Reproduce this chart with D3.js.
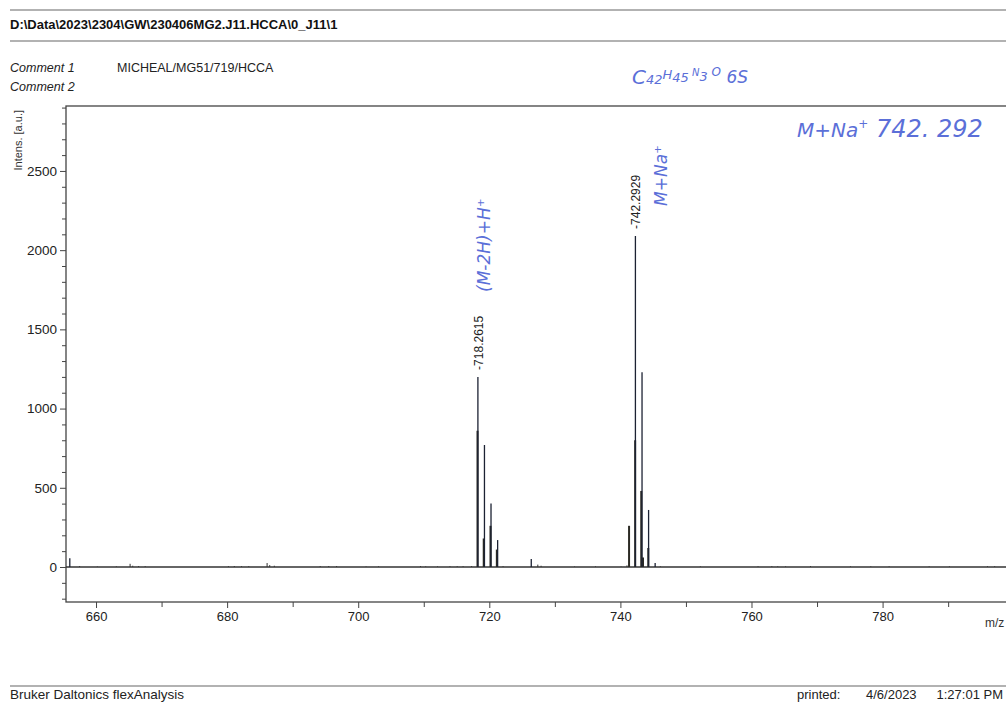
<!DOCTYPE html>
<html>
<head>
<meta charset="utf-8">
<script src="https://cdn.jsdelivr.net/npm/d3@7"></script>
<style>
  body { margin: 0; background: #fff; }
  svg { display: block; font-family: "Liberation Sans", Arial, sans-serif; }
</style>
</head>
<body>
<div id="chart"></div>
<script>
// peak list (m/z, intensity)
const peakMz = [656.0, 718.26, 719.26, 720.26, 721.27, 726.4, 742.29, 743.30, 744.30, 745.3]
const peakIntensity = [55, 1200, 770, 400, 170, 50, 2090, 1230, 360, 25]
// adjacent profile lines of each isotope cluster
const shoulderMz = [718.2, 719.15, 720.18, 721.15, 741.32, 742.25, 743.18, 743.45, 744.25]
const shoulderIntensity = [860, 180, 260, 110, 260, 800, 480, 60, 120]
// small noise peaks along the baseline
const noiseMz = [657.5, 660.2, 663.1, 665.2, 665.6, 666.5, 667.5, 680.2, 681.1, 682.2, 683.3, 686.1, 686.5, 687.2,
  694.2, 695.5, 696.7, 701.2, 703.1, 709.5, 710.3, 712.1, 714.0, 715.1, 716.0, 717.3, 722.1, 727.4, 727.9,
  733.0, 736.2, 740.1, 741.0, 746.1, 752.2, 761.0, 763.1, 764.0, 765.2, 769.0, 775.1, 778.2, 781.0, 787.1, 790.2, 796.0, 797.1]
const noiseIntensity = [6, 3, 4, 20, 8, 6, 5, 5, 6, 5, 5, 25, 12, 8,
  6, 6, 6, 3, 4, 6, 4, 4, 5, 5, 5, 6, 5, 15, 8,
  3, 4, 3, 10, 4, 4, 4, 5, 4, 4, 6, 4, 4, 4, 4, 4, 5, 5]
const labelledMz = [718.2615, 742.2929]
const labelledIntensity = [1200, 2090]
const xMajorTicks = [660, 680, 700, 720, 740, 760, 780]
const yMajorTicks = [0, 500, 1000, 1500, 2000, 2500]

const W = 1006, H = 703
const svg = d3.select('#chart').append('svg').attr('width', W).attr('height', H)

const plot = { left: 66, top: 106, right: 1015, bottom: 602 }
const x = d3.scaleLinear().domain([655.42, 800.2]).range([plot.left, plot.right])
const y = d3.scaleLinear().domain([-221, 2910]).range([plot.bottom, plot.top])

const lineColor = '#444'

// header
svg.append('line').attr('x1', 10).attr('x2', W).attr('y1', 10).attr('y2', 10).attr('stroke', '#666').attr('stroke-width', 1.2)
svg.append('text').attr('x', 10).attr('y', 29).attr('font-size', 13).attr('font-weight', 'bold').attr('fill', '#111')
  .text('D:\\Data\\2023\\2304\\GW\\230406MG2.J11.HCCA\\0_J11\\1')
svg.append('line').attr('x1', 10).attr('x2', W).attr('y1', 41).attr('y2', 41).attr('stroke', '#666').attr('stroke-width', 1.2)
svg.append('text').attr('x', 10).attr('y', 72).attr('font-size', 12.5).attr('font-style', 'italic').attr('fill', '#222').text('Comment 1')
svg.append('text').attr('x', 117).attr('y', 72).attr('font-size', 12.5).attr('fill', '#222').text('MICHEAL/MG51/719/HCCA')
svg.append('text').attr('x', 10).attr('y', 91).attr('font-size', 12.5).attr('font-style', 'italic').attr('fill', '#222').text('Comment 2')

// frame
const g = svg.append('g')
g.append('rect').attr('x', plot.left).attr('y', plot.top)
  .attr('width', plot.right - plot.left).attr('height', plot.bottom - plot.top)
  .attr('fill', 'none').attr('stroke', lineColor).attr('stroke-width', 1.3)

// y axis
const yAxis = g.append('g').attr('transform', `translate(${plot.left},0)`)
  .call(d3.axisLeft(y).tickValues(yMajorTicks).tickFormat(d3.format('d')).tickSize(6).tickPadding(3).tickSizeOuter(0))
yAxis.select('.domain').remove()
yAxis.selectAll('text').attr('font-size', 13.5).attr('fill', '#222').attr('font-family', '"Liberation Sans", Arial, sans-serif')
yAxis.selectAll('line').attr('stroke', lineColor)
const yMinor = g.append('g').attr('transform', `translate(${plot.left},0)`)
  .call(d3.axisLeft(y).tickValues(d3.range(-200, 2901, 100).filter((v) => v % 500 !== 0)).tickSize(4).tickFormat('').tickSizeOuter(0))
yMinor.select('.domain').remove()
yMinor.selectAll('line').attr('stroke', lineColor)

svg.append('text').attr('transform', `translate(22,${plot.top + 4}) rotate(-90)`)
  .attr('text-anchor', 'end').attr('font-size', 11).attr('fill', '#333').text('Intens. [a.u.]')

// x axis
const xAxis = g.append('g').attr('transform', `translate(0,${plot.bottom})`)
  .call(d3.axisBottom(x).tickValues(xMajorTicks).tickSize(6).tickPadding(4).tickSizeOuter(0))
xAxis.select('.domain').remove()
xAxis.selectAll('text').attr('font-size', 13).attr('fill', '#222').attr('font-family', '"Liberation Sans", Arial, sans-serif')
xAxis.selectAll('line').attr('stroke', lineColor)
const xMinor = g.append('g').attr('transform', `translate(0,${plot.bottom})`)
  .call(d3.axisBottom(x).tickValues(d3.range(670, 800, 20)).tickSize(5).tickFormat('').tickSizeOuter(0))
xMinor.select('.domain').remove()
xMinor.selectAll('line').attr('stroke', lineColor)
svg.append('text').attr('x', 985).attr('y', 627).attr('font-size', 12).attr('fill', '#333').text('m/z')

// spectrum baseline
g.append('line').attr('x1', plot.left).attr('x2', W).attr('y1', y(0)).attr('y2', y(0))
  .attr('stroke', '#333').attr('stroke-width', 1.4)

svg.append('clipPath').attr('id', 'clip').append('rect')
  .attr('x', plot.left).attr('y', plot.top).attr('width', plot.right - plot.left).attr('height', plot.bottom - plot.top)
const spec = g.append('g').attr('clip-path', 'url(#clip)')

const sticks = (mz, inten, color, width) => {
  spec.append('g').selectAll('line')
    .data(mz.map((m, i) => ({ m, v: inten[i] })))
    .enter()
    .append('line')
    .attr('x1', (d) => x(d.m)).attr('x2', (d) => x(d.m))
    .attr('y1', y(0)).attr('y2', (d) => y(d.v))
    .attr('stroke', color).attr('stroke-width', width)
}
sticks(noiseMz, noiseIntensity, '#333', 1)
sticks(shoulderMz, shoulderIntensity, '#2b2a24', 2)
sticks(peakMz, peakIntensity, '#1c2233', 1.3)

// peak labels
labelledMz.forEach((m, i) => {
  svg.append('text')
    .attr('transform', `translate(${x(m) + 5},${y(labelledIntensity[i]) - 7}) rotate(-90)`)
    .attr('font-size', 12).attr('fill', '#222').text('-' + m.toFixed(4))
})

// handwritten notes (blue ink)
const ink = '#5b6fd8'
const hand = (t, xx, yy, size, rot) => svg.append('text')
  .attr('transform', `translate(${xx},${yy}) rotate(${rot})`)
  .attr('font-size', size).attr('font-style', 'italic').attr('font-family', '"DejaVu Sans", sans-serif')
  .attr('fill', ink).text(t)
const formula = svg.append('text').attr('x', 632).attr('y', 84).attr('font-size', 20)
  .attr('font-style', 'italic').attr('font-family', '"DejaVu Sans", sans-serif').attr('fill', ink)
formula.append('tspan').text('C')
formula.append('tspan').attr('font-size', 13).text('42')
formula.append('tspan').attr('font-size', 13).attr('dy', -5).text('H')
formula.append('tspan').attr('font-size', 13).attr('dy', 3).text('45')
formula.append('tspan').attr('font-size', 10).attr('dy', -6).text(' N')
formula.append('tspan').attr('font-size', 13).attr('dy', 5).text('3')
formula.append('tspan').attr('font-size', 12).attr('dy', -5).text(' O')
formula.append('tspan').attr('font-size', 17).attr('dy', 7).text(' 6S')
const mna = svg.append('text').attr('x', 797).attr('y', 137).attr('font-size', 20)
  .attr('font-style', 'italic').attr('font-family', '"DejaVu Sans", sans-serif').attr('fill', ink)
mna.append('tspan').text('M+Na')
mna.append('tspan').attr('font-size', 12).attr('dy', -9).text('+')
mna.append('tspan').attr('font-size', 24).attr('dy', 9).text('  742. 292')
hand('(M-2H)+H⁺', 490, 292, 17, -90)
hand('M+Na⁺', 667, 206, 17, -90)

// footer
svg.append('line').attr('x1', 10).attr('x2', W).attr('y1', 686).attr('y2', 686).attr('stroke', '#666').attr('stroke-width', 1.2)
svg.append('text').attr('x', 10).attr('y', 699).attr('font-size', 13.5).attr('fill', '#222').text('Bruker Daltonics flexAnalysis')
svg.append('text').attr('x', 797).attr('y', 699).attr('font-size', 13).attr('fill', '#222').text('printed:')
svg.append('text').attr('x', 866).attr('y', 699).attr('font-size', 13).attr('fill', '#222').text('4/6/2023')
svg.append('text').attr('x', 1003).attr('y', 699).attr('text-anchor', 'end').attr('font-size', 13).attr('fill', '#222').text('1:27:01 PM')
</script>
</body>
</html>
